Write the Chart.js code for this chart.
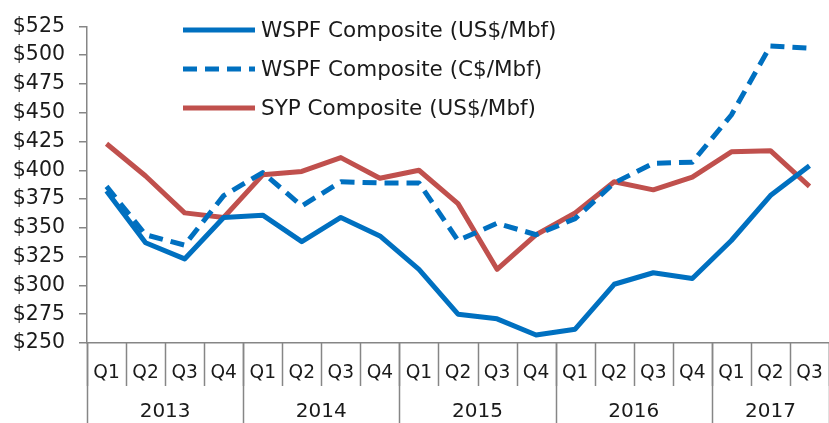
<!DOCTYPE html>
<html>
<head>
<meta charset="utf-8">
<script src="https://cdn.jsdelivr.net/npm/chart.js@4.4.1/dist/chart.umd.min.js"></script>
<style>
  html, body { margin: 0; padding: 0; background: #fff; }
  #wrap { width: 829px; height: 423px; }
</style>
</head>
<body>
<div id="wrap"><canvas id="lumberChart" width="829" height="423"></canvas></div>
<script>
const years = ["2013", "2014", "2015", "2016", "2017"];
const quartersPerYear = [4, 4, 4, 4, 3];
const quarters = ["Q1", "Q2", "Q3", "Q4", "Q1", "Q2", "Q3", "Q4", "Q1", "Q2", "Q3", "Q4",
                  "Q1", "Q2", "Q3", "Q4", "Q1", "Q2", "Q3"];

const wspfUS = [382, 337, 323, 359, 361, 338, 359, 343, 314, 275, 271, 257, 262, 301, 311, 306, 339, 378, 404];
const wspfCA = [386, 344, 335, 378, 398, 369, 390, 389, 389, 339, 354, 344, 358, 389, 406, 407, 448, 508, 506];
const sypUS = [423, 395, 363, 359, 396, 399, 411, 393, 400, 371, 314, 344, 363, 390, 383, 394, 416, 417, 386];

const seriesNames = ["WSPF Composite (US$/Mbf)", "WSPF Composite (C$/Mbf)", "SYP Composite (US$/Mbf)"];
const yTicks = [250, 275, 300, 325, 350, 375, 400, 425, 450, 475, 500, 525];

const BLUE = "#0070C0";
const RED = "#C0504D";
const AXIS = "#868686";

// multi-level category axis + legend drawn on top
const overlayPlugin = {
    id: "overlay",
    afterDraw(chart) {
        const { ctx, chartArea, scales } = chart;
        const x = scales.x;
        const step = x.getPixelForValue(1) - x.getPixelForValue(0);
        const bottom = chart.height;

        ctx.save();
        ctx.strokeStyle = AXIS;
        ctx.lineWidth = 1.5;

        // quarter separators
        for (let i = 0; i <= quarters.length; i++) {
            const px = Math.round(x.getPixelForValue(i) - step / 2) + 0.5;
            ctx.beginPath();
            ctx.moveTo(px, chartArea.bottom);
            ctx.lineTo(px, chartArea.bottom + 43);
            ctx.stroke();
        }
        // year separators
        let idx = 0;
        const bounds = [0];
        quartersPerYear.forEach(n => { idx += n; bounds.push(idx); });
        bounds.forEach(b => {
            const px = Math.round(x.getPixelForValue(b) - step / 2) + 0.5;
            ctx.beginPath();
            ctx.moveTo(px, chartArea.bottom);
            ctx.lineTo(px, bottom);
            ctx.stroke();
        });

        ctx.fillStyle = "#1a1a1a";
        ctx.textAlign = "center";
        ctx.textBaseline = "middle";
        ctx.font = "20px 'DejaVu Sans', Verdana, sans-serif";
        quarters.forEach((q, i) => {
            ctx.save();
            ctx.translate(x.getPixelForValue(i), chartArea.bottom + 30);
            ctx.scale(0.93, 1);
            ctx.fillText(q, 0, 0);
            ctx.restore();
        });
        years.forEach((y, k) => {
            const mid = (bounds[k] + bounds[k + 1] - 1) / 2;
            ctx.fillText(y, x.getPixelForValue(mid), chartArea.bottom + 69);
        });

        // legend
        const legendRows = [
            { name: seriesNames[0], color: BLUE, dash: [] },
            { name: seriesNames[1], color: BLUE, dash: [14, 8] },
            { name: seriesNames[2], color: RED, dash: [] },
        ];
        ctx.textAlign = "left";
        ctx.font = "21.5px 'DejaVu Sans', Verdana, sans-serif";
        legendRows.forEach((row, i) => {
            const ly = 30 + i * 39;
            ctx.strokeStyle = row.color;
            ctx.lineWidth = 5;
            ctx.setLineDash(row.dash);
            ctx.beginPath();
            ctx.moveTo(183, ly);
            ctx.lineTo(255, ly);
            ctx.stroke();
            ctx.setLineDash([]);
            ctx.fillStyle = "#1a1a1a";
            ctx.fillText(row.name, 261, ly + 1);
        });
        ctx.restore();
    }
};

const ctx = document.getElementById("lumberChart").getContext("2d");

new Chart(ctx, {
    type: "line",
    data: {
        labels: quarters,
        datasets: [
            { label: seriesNames[0], data: wspfUS, borderColor: BLUE, borderWidth: 5 },
            { label: seriesNames[1], data: wspfCA, borderColor: BLUE, borderWidth: 5, borderDash: [14, 8] },
            { label: seriesNames[2], data: sypUS, borderColor: RED, borderWidth: 5 },
        ],
    },
    options: {
        responsive: false,
        animation: false,
        events: [],
        layout: { padding: { top: 20, right: 0, bottom: 0, left: 0 } },
        elements: {
            point: { radius: 0 },
            line: { tension: 0, borderCapStyle: "butt", borderJoinStyle: "round", fill: false },
        },
        plugins: {
            legend: { display: false },
            tooltip: { enabled: false },
        },
        scales: {
            x: {
                offset: true,
                ticks: { display: false },
                grid: { display: false },
                border: { display: true, color: AXIS, width: 1.5 },
                afterFit: s => { s.height = 80; },
            },
            y: {
                min: 250,
                max: 525,
                afterBuildTicks: s => { s.ticks = yTicks.map(v => ({ value: v })); },
                ticks: {
                    color: "#1a1a1a",
                    font: { family: "'DejaVu Sans', Verdana, sans-serif", size: 20.5 },
                    padding: 14,
                    callback: v => "$" + v,
                },
                grid: { drawOnChartArea: false, drawTicks: true, tickLength: 8, color: AXIS, lineWidth: 1.5 },
                border: { display: true, color: AXIS, width: 1.5 },
                afterFit: s => { s.width = 87; },
            },
        },
    },
    plugins: [overlayPlugin],
});
</script>
</body>
</html>
